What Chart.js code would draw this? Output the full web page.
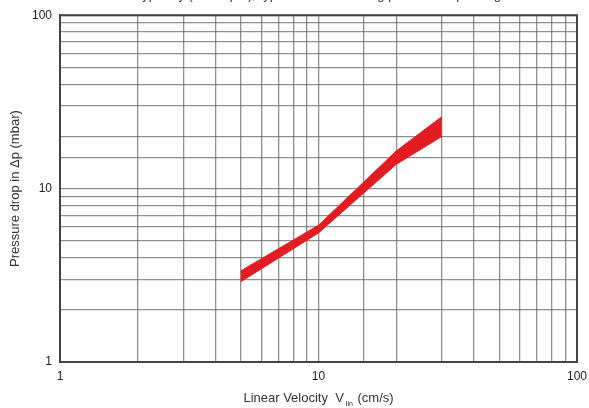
<!DOCTYPE html>
<html>
<head>
<meta charset="utf-8">
<script src="https://cdn.jsdelivr.net/npm/chart.js@4/dist/chart.umd.min.js"></script>
<style>
  html, body { margin: 0; padding: 0; background: #fff; }
  #wrap { width: 589px; height: 408px; position: relative; }
</style>
</head>
<body>
<div id="wrap"><canvas id="dpChart"></canvas></div>
<script>
// ความเร็วเชิงเส้น (cm/s)
var velocity = [5, 10, 20, 30];
// ขอบบน / ขอบล่างของแถบความดันตก (mbar)
var dpUpper = [3.35, 6.15, 16.5, 26];
var dpLower = [2.9, 5.55, 13.8, 20];
// ป้ายแกน
var xTickLabels = [1, 10, 100];
var yTickLabels = [1, 10, 100];
var titleText = 'Typically (50-70 μm), typical values for 1 kg per column packing';

var red = '#e31b23';
var gridColor = 'rgba(105,105,105,0.75)';
var font = "'Liberation Sans', Arial, sans-serif";

function toPoints(ys) {
    return velocity.map(function(v, i) { return { x: v, y: ys[i] }; });
}

// วาดข้อความหัว (ถูกตัดที่ขอบบน) และชื่อแกน x พร้อมตัวห้อย
var textPlugin = {
    id: 'textPlugin',
    afterDraw: function(chart) {
        var ctx = chart.ctx;
        var area = chart.chartArea;
        ctx.save();
        ctx.fillStyle = '#333';
        ctx.textBaseline = 'alphabetic';
        ctx.textAlign = 'center';
        ctx.font = '13px ' + font;
        ctx.fillText(titleText, 318, -1);

        var cx = (area.left + area.right) / 2;
        var y = 402;
        var a = 'Linear Velocity  V';
        var sub = 'lin';
        var b = ' (cm/s)';
        ctx.font = '13px ' + font;
        var wa = ctx.measureText(a).width;
        var wb = ctx.measureText(b).width;
        ctx.font = '7px ' + font;
        var ws = ctx.measureText(sub).width + 3;
        var x0 = cx - (wa + ws + wb) / 2;
        ctx.textAlign = 'left';
        ctx.font = '13px ' + font;
        ctx.fillText(a, x0, y);
        ctx.font = '7px ' + font;
        ctx.fillText(sub, x0 + wa + 2, y + 4);
        ctx.font = '13px ' + font;
        ctx.fillText(b, x0 + wa + ws, y);

        // เส้นขอบกรอบกราฟ
        ctx.strokeStyle = '#444';
        ctx.lineWidth = 2;
        ctx.strokeRect(area.left, area.top, area.right - area.left, area.bottom - area.top);
        ctx.restore();
    }
};

var ctx = document.getElementById('dpChart').getContext('2d');
var chart = new Chart(ctx, {
    type: 'line',
    data: {
        datasets: [{
            data: toPoints(dpUpper),
            borderColor: red,
            backgroundColor: red,
            borderWidth: 1,
            pointRadius: 0,
            fill: '+1'
        }, {
            data: toPoints(dpLower),
            borderColor: red,
            backgroundColor: red,
            borderWidth: 1,
            pointRadius: 0,
            fill: false
        }]
    },
    options: {
        responsive: true,
        maintainAspectRatio: false,
        animation: false,
        layout: { padding: { top: 15, right: 0, left: 0, bottom: 0 } },
        plugins: {
            legend: { display: false },
            tooltip: { enabled: false }
        },
        scales: {
            x: {
                type: 'logarithmic',
                min: 1,
                max: 100,
                border: { display: true, color: '#444', width: 2 },
                grid: { color: gridColor, lineWidth: 1.3, drawTicks: false },
                ticks: {
                    color: '#222',
                    font: { family: font, size: 12 },
                    padding: 7,
                    autoSkip: false,
                    maxRotation: 0,
                    callback: function(v) {
                        return xTickLabels.indexOf(v) >= 0 ? String(v) : '';
                    }
                },
                afterFit: function(scale) {
                    scale.height = 46;
                    scale.paddingRight = 12;
                }
            },
            y: {
                type: 'logarithmic',
                min: 1,
                max: 100,
                border: { display: true, color: '#444', width: 2 },
                grid: { color: gridColor, lineWidth: 1.3, drawTicks: false },
                ticks: {
                    color: '#222',
                    font: { family: font, size: 12 },
                    padding: 8,
                    autoSkip: false,
                    callback: function(v) {
                        return yTickLabels.indexOf(v) >= 0 ? String(v) : '';
                    }
                },
                title: {
                    display: true,
                    text: 'Pressure drop in Δp (mbar)',
                    color: '#333',
                    font: { family: font, size: 13 },
                    padding: { top: 8, bottom: 0 }
                },
                afterFit: function(scale) { scale.width = 60; }
            }
        }
    },
    plugins: [textPlugin]
});
</script>
</body>
</html>
